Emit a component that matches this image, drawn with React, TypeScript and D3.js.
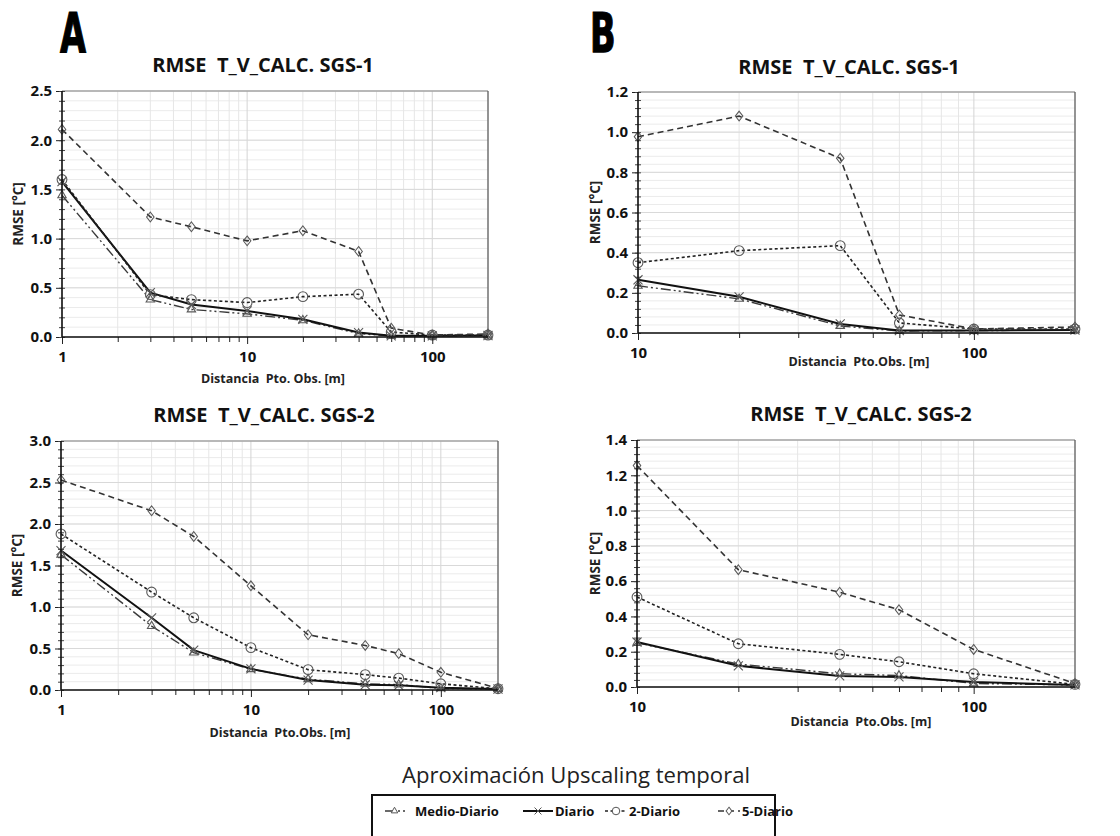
import React, { useEffect, useRef } from 'react';
import * as d3 from 'd3';

// distancia al punto de observacion [m]
const distancias = [1, 3, 5, 10, 20, 40, 60, 100, 200];

// RMSE [°C] SGS-1
const sgs1MedioDiario = [1.44, 0.38, 0.28, 0.235, 0.17, 0.035, 0.01, 0.012, 0.015];
const sgs1Diario = [1.58, 0.45, 0.33, 0.265, 0.18, 0.045, 0.012, 0.012, 0.015];
const sgs1DosDiario = [1.6, 0.43, 0.38, 0.35, 0.41, 0.435, 0.05, 0.02, 0.02];
const sgs1CincoDiario = [2.11, 1.22, 1.12, 0.977, 1.08, 0.87, 0.09, 0.02, 0.03];

// RMSE [°C] SGS-2
const sgs2MedioDiario = [1.63, 0.77, 0.45, 0.25, 0.13, 0.075, 0.065, 0.02, 0.012];
const sgs2Diario = [1.68, 0.87, 0.48, 0.255, 0.12, 0.063, 0.057, 0.028, 0.012];
const sgs2DosDiario = [1.88, 1.18, 0.87, 0.51, 0.245, 0.185, 0.143, 0.075, 0.015];
const sgs2CincoDiario = [2.53, 2.16, 1.85, 1.255, 0.665, 0.537, 0.438, 0.213, 0.02];

const serieNames = ['Medio-Diario', 'Diario', '2-Diario', '5-Diario'];
const xTickLabels = [1, 10, 100];

const FONT = '"Open Sans", "Noto Sans", sans-serif';

const serieStyle = {
  'Medio-Diario': { dash: '10,3,2,3,2,3', width: 1.4, color: '#3a3a3a', symbol: d3.symbolTriangle2, size: 50 },
  'Diario': { dash: null, width: 2, color: '#111', symbol: d3.symbolTimes, size: 55 },
  '2-Diario': { dash: '3,2.5', width: 1.6, color: '#222', symbol: d3.symbolCircle, size: 75 },
  '5-Diario': { dash: '6,4', width: 1.6, color: '#333', symbol: d3.symbolDiamond2, size: 50 },
};

const panels = [
  {
    letter: 'A', letterX: 60, title: 'RMSE  T_V_CALC. SGS-1', titleX: 263, titleY: 65,
    xLabel: 'Distancia  Pto. Obs. [m]', xLabelX: 273, xLabelY: 379, yLabelX: 18,
    xMin: 1, yMax: 2.5, yStep: 0.5, yMinor: 0.1,
    left: 62, right: 488, top: 91, bottom: 337,
    values: [sgs1MedioDiario, sgs1Diario, sgs1DosDiario, sgs1CincoDiario],
  },
  {
    letter: 'B', letterX: 590, title: 'RMSE  T_V_CALC. SGS-1', titleX: 849, titleY: 67,
    xLabel: 'Distancia  Pto.Obs. [m]', xLabelX: 859, xLabelY: 362, yLabelX: 595,
    xMin: 10, yMax: 1.2, yStep: 0.2, yMinor: 0.04,
    left: 638, right: 1075, top: 92, bottom: 333,
    values: [sgs1MedioDiario, sgs1Diario, sgs1DosDiario, sgs1CincoDiario],
  },
  {
    letter: null, letterX: 0, title: 'RMSE  T_V_CALC. SGS-2', titleX: 264, titleY: 415,
    xLabel: 'Distancia  Pto.Obs. [m]', xLabelX: 280, xLabelY: 733, yLabelX: 17,
    xMin: 1, yMax: 3.0, yStep: 0.5, yMinor: 0.1,
    left: 61, right: 498, top: 441, bottom: 690,
    values: [sgs2MedioDiario, sgs2Diario, sgs2DosDiario, sgs2CincoDiario],
  },
  {
    letter: null, letterX: 0, title: 'RMSE  T_V_CALC. SGS-2', titleX: 861, titleY: 414,
    xLabel: 'Distancia  Pto.Obs. [m]', xLabelX: 861, xLabelY: 722, yLabelX: 595,
    xMin: 10, yMax: 1.4, yStep: 0.2, yMinor: 0.04,
    left: 637, right: 1075, top: 440, bottom: 687,
    values: [sgs2MedioDiario, sgs2Diario, sgs2DosDiario, sgs2CincoDiario],
  },
];

function App() {
  const svgRef = useRef(null);

  useEffect(() => {
    const svg = d3.select(svgRef.current);
    svg.selectAll('*').remove();

    panels.forEach((p) => {
      const x = d3.scaleLog().domain([p.xMin, 200]).range([p.left, p.right]);
      const y = d3.scaleLinear().domain([0, p.yMax]).range([p.bottom, p.top]);
      const g = svg.append('g');

      const logMinor = [];
      for (let dec = p.xMin; dec < 200; dec *= 10) {
        for (let k = 1; k < 10; k++) {
          const v = dec * k;
          if (v <= 200) logMinor.push(v);
        }
      }
      const yMinors = d3.range(0, p.yMax + 1e-9, p.yMinor);
      const yMajors = d3.range(0, p.yMax + 1e-9, p.yStep);

      // grid
      g.selectAll('.hminor').data(yMinors).join('line')
        .attr('x1', p.left).attr('x2', p.right)
        .attr('y1', (d) => y(d)).attr('y2', (d) => y(d))
        .attr('stroke', '#ebebeb').attr('stroke-width', 1);
      g.selectAll('.vminor').data(logMinor).join('line')
        .attr('x1', (d) => x(d)).attr('x2', (d) => x(d))
        .attr('y1', p.top).attr('y2', p.bottom)
        .attr('stroke', (d) => (xTickLabels.includes(d) ? '#d4d4d4' : '#e6e6e6')).attr('stroke-width', 1);
      g.selectAll('.hmajor').data(yMajors).join('line')
        .attr('x1', p.left).attr('x2', p.right)
        .attr('y1', (d) => y(d)).attr('y2', (d) => y(d))
        .attr('stroke', '#d9d9d9').attr('stroke-width', 1);

      // top / right border
      g.append('line').attr('x1', p.left).attr('x2', p.right).attr('y1', p.top).attr('y2', p.top)
        .attr('stroke', '#8a8a8a').attr('stroke-width', 1.2);
      g.append('line').attr('x1', p.right).attr('x2', p.right).attr('y1', p.top).attr('y2', p.bottom)
        .attr('stroke', '#555').attr('stroke-width', 1.2);

      // series
      const pts = distancias.map((d, i) => ({ d, i })).filter((o) => o.d >= p.xMin);
      serieNames.forEach((name, si) => {
        const st = serieStyle[name];
        const vals = p.values[si];
        const line = d3.line().x((o) => x(o.d)).y((o) => y(vals[o.i]));
        g.append('path').datum(pts)
          .attr('fill', 'none')
          .attr('stroke', st.color)
          .attr('stroke-width', st.width)
          .attr('stroke-dasharray', st.dash)
          .attr('d', line);
      });
      serieNames.forEach((name, si) => {
        const st = serieStyle[name];
        const vals = p.values[si];
        const sym = d3.symbol().type(st.symbol).size(st.size);
        g.selectAll(null).data(pts).join('path')
          .attr('transform', (o) => `translate(${x(o.d)},${y(vals[o.i])})${name === '5-Diario' ? ' scale(0.85,1.1)' : ''}`)
          .attr('d', sym)
          .attr('fill', 'none')
          .attr('stroke', '#5a5a5a')
          .attr('stroke-width', 1.1);
      });

      // y axis
      const yAxis = g.append('g').attr('transform', `translate(${p.left},0)`)
        .call(d3.axisLeft(y).tickValues(yMajors).tickSize(6).tickSizeOuter(0).tickPadding(4).tickFormat(d3.format('.1f')));
      yAxis.select('.domain').remove();
      yAxis.selectAll('text').attr('font-family', FONT).attr('font-weight', 700).attr('font-size', 15).attr('fill', '#111');
      yAxis.selectAll('.tick line').attr('stroke', '#222');
      const yMinorAxis = g.append('g').attr('transform', `translate(${p.left},0)`)
        .call(d3.axisLeft(y).tickValues(yMinors).tickSize(3).tickSizeOuter(0).tickFormat(() => ''));
      yMinorAxis.select('.domain').remove();
      yMinorAxis.selectAll('.tick line').attr('x1', 3).attr('stroke', '#444');

      // x axis
      const xAxis = g.append('g').attr('transform', `translate(0,${p.bottom})`)
        .call(d3.axisBottom(x).tickValues(logMinor.filter((v) => v < 200)).tickSize(5).tickSizeOuter(0).tickPadding(9)
          .tickFormat((d) => (xTickLabels.includes(d) ? String(d) : '')));
      xAxis.select('.domain').remove();
      xAxis.selectAll('text').attr('font-family', FONT).attr('font-weight', 700).attr('font-size', 15).attr('fill', '#111');
      xAxis.selectAll('.tick line').attr('stroke', '#222')
        .attr('y2', (d) => (xTickLabels.includes(d) ? 7 : 5));

      g.append('line').attr('x1', p.left).attr('x2', p.left).attr('y1', p.top).attr('y2', p.bottom)
        .attr('stroke', '#111').attr('stroke-width', 1.6);
      g.append('line').attr('x1', p.left).attr('x2', p.right).attr('y1', p.bottom).attr('y2', p.bottom)
        .attr('stroke', '#111').attr('stroke-width', 1.6);

      // titles
      g.append('text').attr('x', p.titleX).attr('y', p.titleY).attr('dy', '0.35em')
        .attr('text-anchor', 'middle').style('white-space', 'pre')
        .attr('font-family', FONT).attr('font-weight', 700).attr('font-size', 20).attr('fill', '#111')
        .text(p.title);
      g.append('text').attr('x', p.xLabelX).attr('y', p.xLabelY).attr('dy', '0.35em')
        .attr('text-anchor', 'middle').style('white-space', 'pre')
        .attr('font-family', FONT).attr('font-weight', 700).attr('font-size', 12.5).attr('fill', '#222')
        .text(p.xLabel);
      const yMid = (p.top + p.bottom) / 2;
      g.append('text').attr('transform', `translate(${p.yLabelX},${yMid}) rotate(-90)`).attr('dy', '0.35em')
        .attr('text-anchor', 'middle')
        .attr('font-family', FONT).attr('font-weight', 700).attr('font-size', 13.5).attr('fill', '#222')
        .text('RMSE [°C]');

      if (p.letter) {
        g.append('text').attr('transform', `translate(${p.letterX},52) scale(0.68,1)`)
          .attr('font-family', '"DejaVu Sans Condensed", "DejaVu Sans", sans-serif')
          .attr('font-weight', 700).attr('font-size', 55).attr('fill', '#000')
          .attr('stroke', '#000').attr('stroke-width', 1.2)
          .text(p.letter);
      }
    });

    // leyenda
    svg.append('text').attr('x', 576).attr('y', 775).attr('dy', '0.35em').attr('text-anchor', 'middle')
      .attr('font-family', FONT).attr('font-size', 22.5).attr('fill', '#222')
      .attr('textLength', 348).attr('lengthAdjust', 'spacingAndGlyphs')
      .text('Aproximación Upscaling temporal');
    svg.append('rect').attr('x', 372).attr('y', 795).attr('width', 403).attr('height', 60)
      .attr('fill', 'none').attr('stroke', '#111').attr('stroke-width', 2);

    const legendItems = [
      { x0: 385, x1: 408, text: 415 },
      { x0: 523, x1: 553, text: 555 },
      { x0: 605, x1: 627, text: 629 },
      { x0: 718, x1: 740, text: 742 },
    ];
    serieNames.forEach((name, i) => {
      const st = serieStyle[name];
      const it = legendItems[i];
      const ly = 811;
      svg.append('line').attr('x1', it.x0).attr('x2', it.x1).attr('y1', ly).attr('y2', ly)
        .attr('stroke', st.color).attr('stroke-width', st.width).attr('stroke-dasharray', st.dash);
      svg.append('path')
        .attr('transform', `translate(${(it.x0 + it.x1) / 2 - (i === 0 ? 2 : 0)},${ly})${name === '5-Diario' ? ' scale(0.85,1.1)' : ''}`)
        .attr('d', d3.symbol().type(st.symbol).size(st.size * 0.6)())
        .attr('fill', 'white').attr('stroke', '#555').attr('stroke-width', 1);
      svg.append('text').attr('x', it.text).attr('y', ly).attr('dy', '0.35em')
        .attr('font-family', FONT).attr('font-weight', 700).attr('font-size', 13).attr('fill', '#111')
        .text(name);
    });
  }, []);

  return (
    <div style={{ position: 'absolute', left: 0, top: 0 }}>
      <svg ref={svgRef} width={1120} height={836} style={{ display: 'block', background: '#fff' }}></svg>
    </div>
  );
}

export default App;
